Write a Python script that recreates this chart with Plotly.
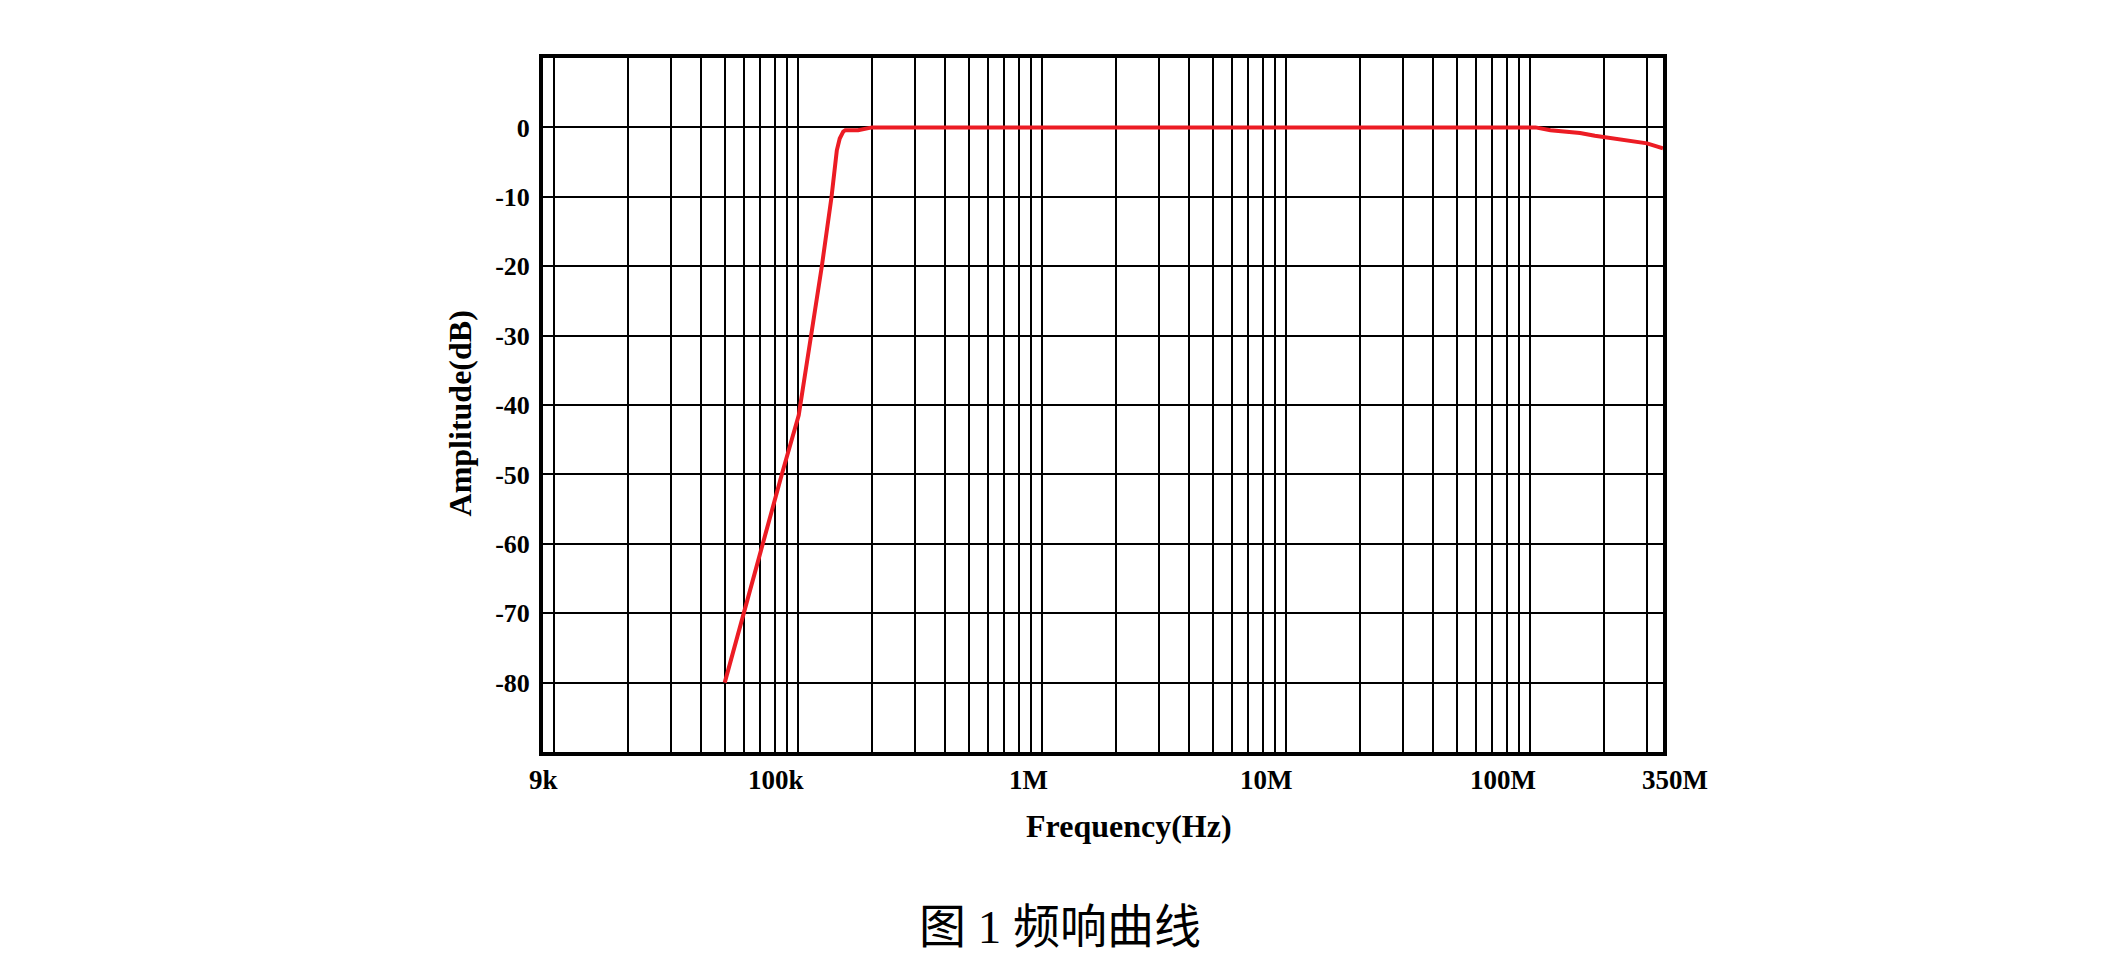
import plotly.graph_objects as go
import math

# ---- data ----
freq_hz = [50e3, 71e3, 86e3, 100.5e3, 113e3, 125e3, 137e3, 141e3, 144e3, 148e3,
           153e3, 156e3, 176e3, 201e3, 1e6, 1e7, 1e8, 105e6, 121e6, 160e6,
           184e6, 206e6, 249e6, 301e6, 350e6]
amp_db = [-80, -60.2, -49.8, -41.5, -30, -20, -10, -5.5, -3.3, -1.6,
          -0.6, -0.4, -0.4, 0, 0, 0, 0, 0, -0.4, -0.8,
          -1.2, -1.45, -2.0, -2.3, -3.0]

x_tick_values = [9e3, 1e5, 1e6, 1e7, 1e8, 3.5e8]
x_tick_labels = ["9k", "100k", "1M", "10M", "100M", "350M"]
y_tick_values = [0, -10, -20, -30, -40, -50, -60, -70, -80]
y_tick_labels = ["0", "-10", "-20", "-30", "-40", "-50", "-60", "-70", "-80"]

x_title = "Frequency(Hz)"
y_title = "Amplitude(dB)"
caption = "图 1 频响曲线"

# gridline positions of the log axis (1..9 per decade)
grid_vals = [m * 10 ** e for e in range(4, 9) for m in range(1, 10) if m * 10 ** e <= 3.5e8]

SERIF = "Liberation Serif, Times New Roman, serif"

fig = go.Figure()
fig.add_trace(go.Scatter(
    x=freq_hz, y=amp_db, mode="lines",
    line=dict(color="#ec1c24", width=4),
    showlegend=False, hoverinfo="skip",
))

fig.update_layout(
    width=2124, height=980,
    margin=dict(l=543, r=461, t=58, b=228, pad=0),
    paper_bgcolor="white", plot_bgcolor="white",
    showlegend=False,
)

fig.update_xaxes(
    type="log",
    range=[math.log10(9e3), math.log10(3.5e8)],
    tickvals=grid_vals, showticklabels=False, ticks="",
    showgrid=True, gridcolor="#000000", gridwidth=1.6,
    showline=True, linecolor="black", linewidth=4, mirror=True,
    zeroline=False,
)
fig.update_yaxes(
    range=[-90, 10],
    tickvals=y_tick_values, ticktext=y_tick_labels, ticks="",
    tickfont=dict(family=SERIF, size=26, color="black", weight="bold"),
    showgrid=True, gridcolor="#000000", gridwidth=1.6,
    showline=True, linecolor="black", linewidth=4, mirror=True,
    zeroline=False, ticklabelstandoff=4,
)

# x tick labels (positioned like the reference: end labels centred, others right-aligned)
for val, lab in zip(x_tick_values, x_tick_labels):
    if lab == "9k":
        anchor, shift = "center", 0
    elif lab == "350M":
        anchor, shift = "center", 12
    else:
        anchor, shift = "right", 8
    fig.add_annotation(
        x=math.log10(val), xref="x", y=0, yref="paper",
        xanchor=anchor, yanchor="middle", xshift=shift, yshift=-28,
        text=lab, showarrow=False,
        font=dict(family=SERIF, size=27, color="black", weight="bold"),
    )

# axis titles
fig.add_annotation(
    x=-0.074, xref="paper", y=0.488, yref="paper",
    xanchor="center", yanchor="middle", textangle=-90,
    text=y_title, showarrow=False,
    font=dict(family=SERIF, size=32, color="black", weight="bold"),
)
fig.add_annotation(
    x=0.5236, xref="paper", y=-0.1065, yref="paper",
    xanchor="center", yanchor="middle",
    text=x_title, showarrow=False,
    font=dict(family=SERIF, size=32, color="black", weight="bold"),
)
# figure caption
fig.add_annotation(
    x=0.462, xref="paper", y=-0.252, yref="paper",
    xanchor="center", yanchor="middle",
    text=caption, showarrow=False,
    font=dict(family="Liberation Serif, Noto Sans CJK SC", size=47, color="black"),
)

fig.write_html("out.html", config={"displayModeBar": False},
               post_script="document.body.style.margin='0px';")
